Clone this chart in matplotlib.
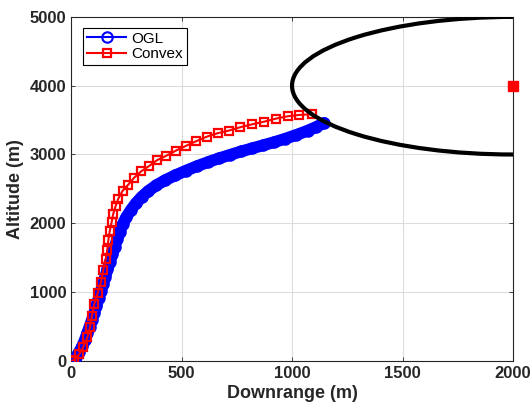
import matplotlib
matplotlib.use("Agg")
import matplotlib.pyplot as plt
from matplotlib.patches import Ellipse

plt.rcParams['font.family'] = ['Liberation Sans', 'DejaVu Sans']

# OGL trajectory (downrange m, altitude m)
ogl_x = [0, 10, 22, 36, 50, 62, 73, 84, 95, 105, 115, 125, 135, 145, 155, 165,
         176, 187, 198, 209, 221, 234, 250, 270, 293, 320, 350, 385, 425, 470,
         520, 570, 620, 670, 720, 770, 820, 870, 920, 970, 1020, 1070, 1110, 1145]
ogl_y = [0, 20, 60, 125, 210, 300, 400, 500, 600, 700, 805, 910, 1015, 1120, 1225, 1330,
         1440, 1550, 1660, 1770, 1880, 1990, 2090, 2190, 2290, 2385, 2470, 2550, 2625, 2695,
         2765, 2830, 2890, 2945, 2995, 3045, 3090, 3135, 3180, 3230, 3285, 3345, 3400, 3460]

# Convex trajectory
cvx_x = [0, 14, 38, 56, 74, 86, 94, 105, 121, 136, 146, 157, 164, 169, 175, 184,
         191, 202, 214, 234, 259, 285, 318, 354, 389, 430, 475, 520, 566, 615,
         664, 715, 766, 821, 875, 928, 981, 1032, 1089]
cvx_y = [0, 15, 102, 208, 344, 490, 654, 824, 993, 1153, 1323, 1478, 1617, 1759, 1885, 2020,
         2137, 2253, 2359, 2475, 2562, 2660, 2757, 2834, 2917, 2980, 3057, 3125, 3193, 3260,
         3310, 3348, 3397, 3440, 3478, 3522, 3556, 3575, 3585]

# target region
target_center = (2000, 4000)
target_radius = 1000

fig = plt.figure(figsize=(5.3, 4.12), dpi=100)
ax = fig.add_axes([0.134, 0.124, 0.834, 0.835])

ax.plot(ogl_x, ogl_y, '-', color='blue', linewidth=8.5, solid_capstyle='round', zorder=2)
ax.plot(ogl_x, ogl_y, 'o-', color='blue', linewidth=1.5, markersize=7.5,
        markerfacecolor='none', markeredgewidth=1.5, label='OGL', zorder=3)
ax.plot(cvx_x, cvx_y, 's-', color='red', linewidth=1.5, markersize=5.5,
        markerfacecolor='none', markeredgewidth=1.6, label='Convex', zorder=4)

ax.add_patch(Ellipse(target_center, 2 * target_radius, 2 * target_radius,
                     fill=False, edgecolor='black', linewidth=3, zorder=5))
ax.plot([target_center[0]], [target_center[1]], 's', color='red', markersize=7,
        clip_on=False, zorder=6)

ax.set_xlim(0, 2000)
ax.set_ylim(0, 5000)
ax.set_xticks([0, 500, 1000, 1500, 2000])
ax.set_yticks([0, 1000, 2000, 3000, 4000, 5000])
ax.grid(True, color='#dcdcdc', linewidth=0.8)
ax.set_axisbelow(True)
ax.tick_params(direction='in', length=3, width=0.6, colors='#262626',
               labelsize=12, top=True, right=True, labeltop=False, labelright=False)
for lab in ax.get_xticklabels() + ax.get_yticklabels():
    lab.set_fontweight('bold')
for sp in ax.spines.values():
    sp.set_color('#262626')
    sp.set_linewidth(0.8)

ax.set_xlabel('Downrange (m)', fontsize=13, fontweight='bold', color='#262626', labelpad=3)
ax.set_ylabel('Altitude (m)', fontsize=13, fontweight='bold', color='#262626', labelpad=4)

leg = ax.legend(loc='upper left', bbox_to_anchor=(0.027, 0.968), borderaxespad=0,
                fontsize=11, fancybox=False, edgecolor='black', framealpha=1,
                handlelength=2.6, borderpad=0.25, labelspacing=0.1, handletextpad=0.3)
leg.get_frame().set_linewidth(0.8)

fig.savefig('out.png', dpi=100)
